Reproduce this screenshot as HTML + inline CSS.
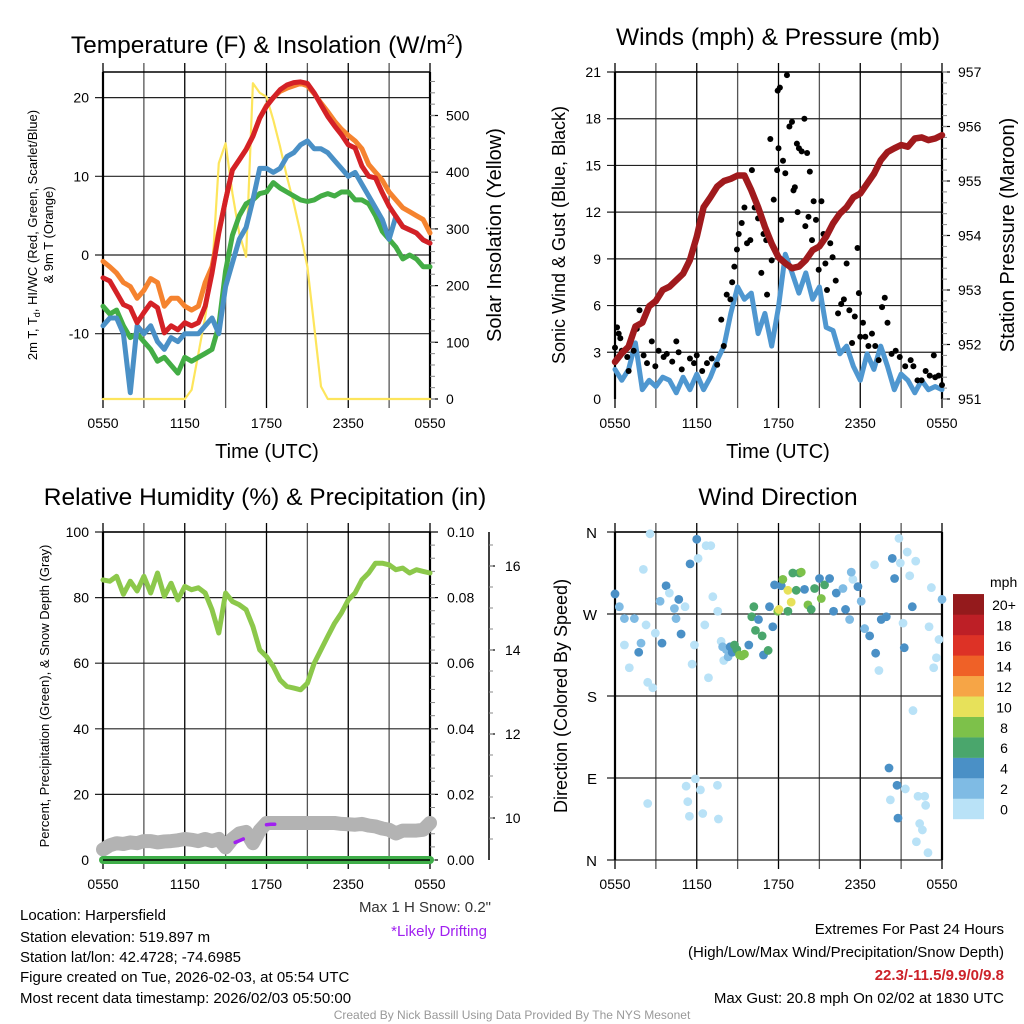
<!DOCTYPE html>
<html><head><meta charset="utf-8"><style>
html,body{margin:0;padding:0;background:#fff}
svg{display:block;font-family:"Liberation Sans",sans-serif}
</style></head><body>
<svg id="fig" width="1024" height="1024" viewBox="0 0 1024 1024" xmlns="http://www.w3.org/2000/svg">
<rect width="1024" height="1024" fill="#fff"/>
<g id="layer"></g>
<g font-size="24.5" fill="#000" text-anchor="middle">
<text x="267" y="53">Temperature (F) &amp; Insolation (W/m<tspan dy="-9" font-size="15">2</tspan><tspan dy="9">)</tspan></text>
<text x="778" y="45">Winds (mph) &amp; Pressure (mb)</text>
<text x="265" y="505">Relative Humidity (%) &amp; Precipitation (in)</text>
<text x="778" y="505">Wind Direction</text>
</g>
<g fill="#000" text-anchor="middle">
<text x="267" y="458" font-size="20">Time (UTC)</text>
<text x="778" y="458" font-size="20">Time (UTC)</text>
<text transform="translate(37,235) rotate(-90)" font-size="13">2m T, T<tspan dy="3" font-size="9">d</tspan><tspan dy="-3">, HI/WC (Red, Green, Scarlet/Blue)</tspan></text>
<text transform="translate(53,235) rotate(-90)" font-size="13">&amp; 9m T (Orange)</text>
<text transform="translate(501,235) rotate(-90)" font-size="20">Solar Insolation (Yellow)</text>
<text transform="translate(565,235) rotate(-90)" font-size="18">Sonic Wind &amp; Gust (Blue, Black)</text>
<text transform="translate(1014,235) rotate(-90)" font-size="20">Station Pressure (Maroon)</text>
<text transform="translate(49,696) rotate(-90)" font-size="13">Percent, Precipitation (Green), &amp; Snow Depth (Gray)</text>
<text transform="translate(567,696) rotate(-90)" font-size="18">Direction (Colored By Speed)</text>
</g>
<g font-size="15" fill="#000">
<text x="20" y="920">Location: Harpersfield</text>
<text x="20" y="942">Station elevation: 519.897 m</text>
<text x="20" y="962">Station lat/lon: 42.4728; -74.6985</text>
<text x="20" y="982">Figure created on Tue, 2026-02-03, at 05:54 UTC</text>
<text x="20" y="1003">Most recent data timestamp: 2026/02/03 05:50:00</text>
<text x="491" y="912" text-anchor="end" fill="#333">Max 1 H Snow: 0.2"</text>
<text x="487" y="936" text-anchor="end" fill="#a020f0">*Likely Drifting</text>
<text x="1004" y="934" text-anchor="end">Extremes For Past 24 Hours</text>
<text x="1004" y="957" text-anchor="end">(High/Low/Max Wind/Precipitation/Snow Depth)</text>
<text x="1004" y="980" text-anchor="end" fill="#cc2229" font-weight="bold">22.3/-11.5/9.9/0/9.8</text>
<text x="1004" y="1003" text-anchor="end">Max Gust: 20.8 mph On 02/02 at 1830 UTC</text>
<text x="512" y="1019" text-anchor="middle" font-size="12" fill="#999">Created By Nick Bassill Using Data Provided By The NYS Mesonet</text>
</g>
</svg>
<script>
// ---- data (hours since 0550 UTC, half-hourly) ----
const hh = [0,0.5,1,1.5,2,2.5,3,3.5,4,4.5,5,5.5,6,6.5,7,7.5,8,8.5,9,9.5,10,10.5,11,11.5,12,12.5,13,13.5,14,14.5,15,15.5,16,16.5,17,17.5,18,18.5,19,19.5,20,20.5,21,21.5,22,22.5,23,23.5,24];
const xTickLabels = ["0550","1150","1750","2350","0550"];
const tempRed = [-2.9,-3.3,-4.8,-6.3,-6.7,-8.6,-7.3,-6.1,-6.7,-9.9,-9.0,-9.5,-8.6,-9.0,-8.6,-6.5,-2.3,2.8,7.0,10.8,12.1,13.4,15.1,17.4,18.9,20.0,21.0,21.6,21.9,22.0,21.8,20.6,19.1,17.6,16.4,15.3,14.0,13.6,11.3,10.0,9.8,7.9,6.2,4.9,3.6,3.2,2.8,1.9,1.5];
const tempOrange = [-0.8,-1.5,-2.3,-3.5,-4.0,-5.5,-4.5,-3.0,-3.5,-6.5,-5.5,-5.5,-6.5,-7.0,-6.5,-3.5,-1.5,3.0,7.0,10.8,12.1,13.4,15.1,17.4,19.0,20.0,20.8,21.2,21.5,21.8,21.5,20.5,19.3,18.2,17.0,16.0,15.2,14.5,13.5,11.5,10.5,9.5,8.0,7.0,6.0,5.5,5.0,4.5,2.8];
const tempDew = [-6.5,-7.5,-7.0,-9.0,-10.5,-10.0,-11.0,-12.0,-13.5,-13.0,-14.0,-15.0,-13.0,-13.5,-13.0,-12.5,-12.0,-9.0,-2.0,2.5,5.0,6.5,7.0,7.8,8.0,9.2,8.5,8.0,7.5,7.0,6.8,7.0,7.5,7.8,7.5,8.0,8.0,7.0,7.0,6.5,5.0,3.0,2.0,1.0,-0.5,0.0,-0.5,-1.5,-1.5];
const tempChill = [-9.0,-8.0,-8.0,-10.0,-17.5,-9.0,-10.0,-9.0,-11.0,-12.0,-10.5,-11.0,-10.0,-10.0,-10.0,-9.0,-8.0,-10.0,-4.0,-1.0,2.0,3.5,7.0,11.0,11.0,10.5,11.0,12.5,13.0,14.0,14.5,13.5,13.5,13.0,12.0,11.0,10.0,10.5,9.0,7.5,6.0,4.5,2.0,4.9,3.6,3.2,2.8,1.9,1.5];
const solar = [0,0,0,0,0,0,0,0,0,0,0,0,0,16,80,145,222,416,451,363,292,251,557,540,533,492,445,392,345,292,233,128,22,0,0,0,0,0,0,0,0,0,0,0,0,0,0,0,0];
const tempTicks = [-10,0,10,20];
const solarTicks = [0,100,200,300,400,500];
const windSpeed = [1.9,1.2,1.9,3.6,0.6,1.2,0.8,1.4,1.2,0.4,1.4,0.6,1.6,0.6,1.4,2.5,3.4,5.5,7.2,6.4,6.8,4.2,5.5,3.4,5.9,9.3,8.1,6.8,8.1,6.4,7.2,4.6,4.4,2.9,3.4,2.1,1.2,2.9,1.9,3.4,2.1,0.6,1.6,1.2,0.4,1.2,0.6,0.8,0.6];
const pressure = [951.68,951.84,951.96,952.33,952.4,952.7,952.8,953.0,953.06,953.18,953.3,953.55,953.98,954.52,954.7,954.9,955.0,955.04,955.1,955.1,954.83,954.52,954.16,953.85,953.6,953.49,953.4,953.43,953.55,953.73,953.8,953.98,954.22,954.4,954.52,954.7,954.77,954.95,955.13,955.38,955.53,955.6,955.66,955.63,955.78,955.8,955.75,955.78,955.84];
const gustHours = [0,0.15,0.27,0.39,0.5,0.9,1.0,1.37,1.6,1.8,2.1,2.35,2.7,2.96,3.2,3.57,3.8,4.2,4.5,4.67,4.9,5.5,5.8,6.0,6.4,6.75,7.1,7.5,7.8,7.98,8.2,8.47,8.6,8.76,8.95,9.08,9.3,9.5,9.69,9.93,10.05,10.25,10.5,10.74,10.9,11.1,11.16,11.4,11.5,11.65,11.9,11.94,12.1,12.0,12.2,12.33,12.5,12.62,12.8,12.99,13.1,13.2,13.35,13.4,13.5,13.7,13.9,13.97,14.1,14.2,14.3,14.46,14.58,14.75,14.95,15.15,15.3,15.44,15.56,15.8,15.97,16.2,16.37,16.6,16.8,17.0,17.2,17.4,17.6,17.8,17.9,18.0,18.2,18.37,18.6,18.86,19.1,19.35,19.6,19.8,20.0,20.3,20.6,20.9,21.3,21.7,21.9,22.2,22.5,22.8,23.1,23.4,23.5,23.75,24];
const gustSpeed = [3.3,4.6,4.2,3.9,3.1,2.7,1.8,3.1,4.5,5.7,2.8,2.3,3.7,2.1,3.1,2.7,2.9,2.4,3.7,3.0,1.9,2.6,2.3,2.8,1.8,2.3,2.6,2.2,5.1,3.4,6.7,6.4,7.5,8.5,9.6,10.6,11.3,12.3,10.0,10.2,14.7,12.3,11.6,8.1,10.6,10.2,6.7,16.7,8.9,12.8,14.7,19.8,20.0,16.1,11.5,15.3,14.5,20.8,17.5,17.8,13.4,13.6,16.4,12.0,16.1,15.9,18.0,11.1,15.8,11.7,14.6,10.2,12.7,11.5,8.3,12.7,10.6,8.7,7.0,10.0,9.1,7.6,5.5,6.1,6.4,8.7,5.7,3.6,5.3,9.7,6.8,4.0,4.9,4.0,3.4,4.2,3.4,2.5,5.9,6.5,4.9,2.9,3.1,2.7,2.1,2.5,2.1,1.2,1.2,1.8,1.5,2.8,1.4,1.5,0.9];
const windTicks = [0,3,6,9,12,15,18,21];
const pressureTicks = [951,952,953,954,955,956,957];
const humidity = [85.4,85,86.5,81,85,82,86.5,81.4,87.5,80.4,84.4,79.3,83.4,82.4,83,81.4,76.3,69.2,81.4,78.8,77.8,76.3,71.2,64.1,62,59,54.9,52.9,52.4,51.9,53.9,60,64.1,68.2,72.2,75.3,79.3,81.4,85.4,87.5,90.5,90.5,90,88.5,89,87.5,88.5,88,87.5];
const snowDepth = [9.25,9.35,9.4,9.38,9.42,9.4,9.45,9.45,9.42,9.44,9.45,9.47,9.5,9.48,9.45,9.5,9.45,9.5,9.3,9.5,9.63,9.67,9.4,9.7,9.88,9.88,9.88,9.88,9.88,9.88,9.88,9.88,9.88,9.88,9.88,9.86,9.85,9.84,9.86,9.82,9.8,9.75,9.72,9.63,9.7,9.7,9.7,9.72,9.88];
const precip = [0,0,0,0,0,0,0,0,0,0,0,0,0,0,0,0,0,0,0,0,0,0,0,0,0,0,0,0,0,0,0,0,0,0,0,0,0,0,0,0,0,0,0,0,0,0,0,0,0];
const driftHours = [[9.7,10.0,10.3],[12.0,12.3,12.6]];
const driftDepth = [[9.42,9.46,9.5],[9.84,9.85,9.85]];
const rhTicks = [0,20,40,60,80,100];
const precipTicks = ["0.00","0.02","0.04","0.06","0.08","0.10"];
const snowTicks = [10,12,14,16];
const dirHours = [0,0.32,0.69,0.69,1.05,1.42,1.74,1.91,2.08,2.28,2.4,2.4,2.57,2.77,2.96,3.31,3.45,3.75,3.99,4.36,4.48,4.68,4.85,5.14,5.51,5.66,5.83,5.9,5.22,5.34,5.46,6.0,6.1,6.27,6.44,6.59,6.69,6.86,7.03,7.18,7.54,7.52,7.59,7.79,7.9,7.98,8.16,8.3,8.45,8.6,8.77,8.94,9.14,9.31,9.5,9.82,10.04,10.19,10.31,10.53,10.8,10.9,11.24,11.34,11.58,11.71,11.95,12.03,12.2,12.32,12.69,12.69,12.93,13.05,13.3,13.54,13.67,13.91,14.16,14.4,14.65,15.01,15.14,15.38,15.75,16.04,16.24,16.73,16.92,17.22,17.46,17.34,17.83,18.07,18.32,18.69,19.05,19.13,19.37,19.54,19.91,20.11,20.21,20.35,20.52,20.7,20.77,20.84,20.94,21.14,21.23,21.31,21.45,21.63,21.82,21.87,22.07,22.12,22.24,22.36,22.56,22.73,22.8,22.97,23.05,23.22,23.39,23.59,23.78,24.0];
const dirDeg = [292,278,265,236,211,265,228,238,319,258,62,195,358,189,249,284,238,301,293,276,265,286,248,278,325,215,236,89,81,64,48,352,331,77,51,258,345,200,345,289,273,82,45,240,234,219,231,223,234,228,236,231,225,224,226,236,267,278,252,264,246,225,230,278,256,302,273,275,301,308,296,273,283,315,296,315,316,297,280,275,298,309,287,302,309,273,293,298,275,264,308,316,300,284,254,246,324,227,208,264,267,101,66,331,309,82,46,353,326,260,233,78,338,312,278,164,328,20,70,40,33,70,60,8,256,299,211,222,242,286];
const dirSpeed = [5,3,3,1,1,3,5,3,1,1,1,1,1,1,1,3,5,5,1,3,3,5,5,1,5,1,1,1,1,1,1,5,1,1,1,1,1,1,1,1,1,1,1,1,3,1,3,3,5,5,7,7,9,9,9,5,7,7,7,5,7,5,7,5,5,5,9,11,5,9,11,7,11,7,7,7,9,5,9,7,7,5,9,7,5,5,5,3,5,3,1,3,5,3,3,5,1,5,1,5,5,5,1,5,5,5,5,1,1,1,5,1,1,1,5,1,1,1,1,1,1,1,1,1,1,1,1,1,1,3];
const dirTickLabels = ["N","E","S","W","N"];
const speedBinLabels = ["0","2","4","6","8","10","12","14","16","18","20+"];
const speedColors = ["#b9e2f7","#7fbbe4","#4a90c6","#4aa66c","#7dc14a","#e7e15a","#f6a546","#ef6127","#dd3226","#bd1f26","#941a1c"];

// ---- drawing ----
const NS="http://www.w3.org/2000/svg";
const layer=document.getElementById('layer');
function mk(tag,attrs,parent){const e=document.createElementNS(NS,tag);for(const k in attrs)e.setAttribute(k,attrs[k]);(parent||layer).appendChild(e);return e;}
function txt(x,y,s,size,anchor,parent){const t=mk('text',{x:x,y:y,'font-size':size,'text-anchor':anchor,fill:'#000'},parent);t.textContent=s;return t;}
function xs(p,h){return p.x0+h/24*(p.x1-p.x0);}
function line(pts,color,w,parent){return mk('polyline',{points:pts.map(q=>q[0].toFixed(1)+','+q[1].toFixed(1)).join(' '),fill:'none',stroke:color,'stroke-width':w,'stroke-linejoin':'round','stroke-linecap':'round'},parent);}

const P1={x0:103,x1:430,y0:72,y1:399};
const P2={x0:615,x1:942,y0:72,y1:399};
const P3={x0:103,x1:430,y0:532,y1:860};
const P4={x0:615,x1:942,y0:532,y1:860};
const yT=v=>255-v*7.87, yS=v=>399-v*0.567;
const yW=v=>399-v*(327/21), yP=v=>399-(v-951)*54.5;
const yR=v=>860-v*3.28, yPr=v=>860-v*3280, ySn=v=>818-(v-10)*42;
const yD=v=>860-v/360*328;

function frame(p,name,hLines){
  const g=mk('g',{});
  
  
  for(let k=0;k<=8;k++){const x=p.x0+k*(p.x1-p.x0)/8;mk('line',{x1:x,x2:x,y1:p.y0-9,y2:p.y1+9,stroke:(k%2?'#555':'#000'),'stroke-width':1.3},g);}
  hLines.forEach(y=>mk('line',{x1:p.x0-8,x2:p.x1,y1:y,y2:y,stroke:'#222','stroke-width':1.2},g));
  mk('line',{x1:p.x0,x2:p.x1,y1:p.y0,y2:p.y0,stroke:'#000','stroke-width':1.5},g);
  mk('line',{x1:p.x0,x2:p.x0,y1:p.y0,y2:p.y1,stroke:'#000','stroke-width':2.2},g);
  mk('line',{x1:p.x1,x2:p.x1,y1:p.y0,y2:p.y1,stroke:'#000','stroke-width':2.2},g);
  xTickLabels.forEach((s,i)=>{const t=txt(p.x0+i*(p.x1-p.x0)/4,p.y1+29,s,14,'middle',g);
    
    });
  return g;
}
function rightTicks(p,vals,yf,fmt,x,name){
  const g=mk('g',{});
  
  
  vals.forEach(v=>{const y=yf(v);mk('line',{x1:p.x1,x2:p.x1+8,y1:y,y2:y,stroke:'#000','stroke-width':1.2},g);txt(x,y+5,fmt(v),14,'start',g);});
  for(let y=p.y1;y>=p.y0;y-=(yf(vals[0])-yf(vals[1]))/5){mk('line',{x1:p.x1,x2:p.x1+5,y1:y,y2:y,stroke:'#888','stroke-width':1},g);}
}
function leftLabels(p,vals,yf,fmt,name){
  const g=mk('g',{});
  
  
  vals.forEach(v=>txt(p.x0-14,yf(v)+5,fmt(v),14,'end',g));
}

// Panel 1
frame(P1,'temperature',tempTicks.map(yT));
leftLabels(P1,tempTicks,yT,v=>String(v),'temp-y-tick-labels');
rightTicks(P1,solarTicks,yS,v=>String(v),446,'solar-y-ticks');
const sl=line(hh.map((h,i)=>[xs(P1,h),yS(solar[i])]),'#fde55c',2.2);


const l1=line(hh.map((h,i)=>[xs(P1,h),yT(tempOrange[i])]),'#f5832f',5);


const l2=line(hh.map((h,i)=>[xs(P1,h),yT(tempDew[i])]),'#43ad45',5);


const l3=line(hh.map((h,i)=>[xs(P1,h),yT(tempChill[i])]),'#4a90c6',5);


const l4=line(hh.map((h,i)=>[xs(P1,h),yT(tempRed[i])]),'#d42126',5);



// Panel 2
frame(P2,'winds',windTicks.slice(1).map(yW));
leftLabels(P2,windTicks,yW,v=>String(v),'wind-y-tick-labels');
rightTicks(P2,pressureTicks,yP,v=>String(v),958,'pressure-y-ticks');
const wl=line(hh.map((h,i)=>[xs(P2,h),yW(windSpeed[i])]),'#4f97d0',5);


const gg=mk('g',{});


gustHours.forEach((h,i)=>{const c=mk('circle',{cx:xs(P2,h),cy:yW(gustSpeed[i]),r:3,fill:'#000'},gg);
  
  });
const pl=line(hh.map((h,i)=>[xs(P2,h),yP(pressure[i])]),'#a01a1d',6.5);



// Panel 3
frame(P3,'humidity',rhTicks.slice(1).map(yR));
leftLabels(P3,rhTicks,yR,v=>String(v),'humidity-y-tick-labels');
rightTicks(P3,precipTicks.map(Number),yPr,v=>v.toFixed(2),447,'precip-y-ticks');
const sg=mk('g',{});


mk('line',{x1:489,x2:489,y1:532,y2:860,stroke:'#000','stroke-width':1.5},sg);
snowTicks.forEach(v=>{mk('line',{x1:489,x2:495,y1:ySn(v),y2:ySn(v),stroke:'#000','stroke-width':1.2},sg);txt(505,ySn(v)+5,String(v),14,'start',sg);});
for(let v=9.5;v<16.8;v+=0.5){mk('line',{x1:489,x2:493,y1:ySn(v),y2:ySn(v),stroke:'#888','stroke-width':1},sg);}
const snl=line(hh.map((h,i)=>[xs(P3,h),ySn(snowDepth[i])]),'#b3b3b3',14);


driftHours.forEach((hs,j)=>{const d=line(hs.map((h,i)=>[xs(P3,h),ySn(driftDepth[j][i])]),'#a020f0',3.5);
  
  });
const prl=line(hh.map((h,i)=>[xs(P3,h),yPr(precip[i])]),'#3fae49',8);


const rhl=line(hh.map((h,i)=>[xs(P3,h),yR(humidity[i])]),'#8cc84b',5);


mk('line',{x1:P3.x0,x2:P3.x1,y1:860,y2:860,stroke:'#000','stroke-width':1.5});

// Panel 4
frame(P4,'wind-direction',[90,180,270,360].map(yD).concat([860]));
const dl=mk('g',{});


dirTickLabels.forEach((s,i)=>txt(P4.x0-18,yD(i*90)+6,s,15,'end',dl));
const dg=mk('g',{});


dirHours.forEach((h,i)=>{const b=Math.min(10,Math.floor(dirSpeed[i]/2));
  const c=mk('circle',{cx:xs(P4,h),cy:yD(dirDeg[i]),r:4.4,fill:speedColors[b]},dg);
  
  });
const cb=mk('g',{});


txt(990,587,'mph',14,'start',cb);
const binH=20.45;
speedBinLabels.forEach((s,i)=>{const y=819-(i+1)*binH;
  const r=mk('rect',{x:953,y:y,width:31,height:binH+0.2,fill:speedColors[i]},cb);
  
  
  txt(1004,y+16,s,14,'middle',cb);});
</script>
</body></html>
